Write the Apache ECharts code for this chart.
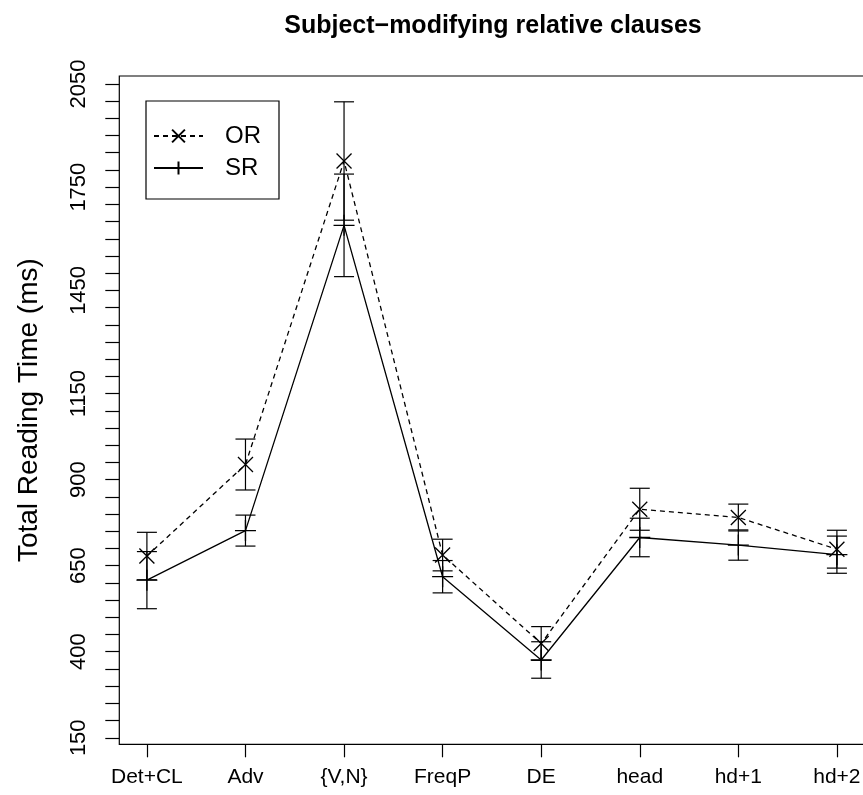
<!DOCTYPE html>
<html lang="en">
<head>
    <meta charset="UTF-8">
    <title>Subject-modifying relative clauses</title>
    <style>
        html, body {margin: 0; padding: 0; background: #fff;}
        #main {width: 863px; height: 795px;}
    </style>
</head>
<body>
<div id="main"></div>
<script src="https://cdn.jsdelivr.net/npm/echarts@6/dist/echarts.min.js"></script>
<script>
    // regions along the sentence
    const categories = ['Det+CL', 'Adv', '{V,N}', 'FreqP', 'DE', 'head', 'hd+1', 'hd+2']
    // object relatives (dashed, x)
    const orMean = [678, 944, 1826, 681, 424, 814, 790, 698]
    const orErr = [69, 74, 172, 46, 49, 61, 39, 55]
    // subject relatives (solid, +)
    const srMean = [608, 752, 1639, 618, 376, 732, 710, 682]
    const srErr = [83, 45, 149, 47, 53, 56, 44, 54]
    // y axis labels (R drops the ones that would overlap)
    const yLabels = [150, 400, 650, 900, 1150, 1450, 1750, 2050]
    const yTickStep = 50

    let yTicks = []
    for (let v = yLabels[0]; v <= yLabels[yLabels.length - 1]; v += yTickStep) yTicks.push(v)
    const xPos = categories.map((c, i) => i + 1)

    const FONT = '"Liberation Sans", Arial, sans-serif'
    const crossPath = 'path://M0,0L10,10M10,0L0,10'
    const plusPath = 'path://M5,0L5,10M0,5L10,5'

    function pairs(means) {
        return means.map((m, i) => [xPos[i], m])
    }

    function errData(means, errs) {
        return means.map((m, i) => [xPos[i], m - errs[i], m + errs[i]])
    }

    function renderErr(params, api) {
        const lo = api.coord([api.value(0), api.value(1)])
        const hi = api.coord([api.value(0), api.value(2)])
        const w = 10
        const style = {stroke: '#000', lineWidth: 1.2}
        return {
            type: 'group',
            children: [
                {type: 'line', shape: {x1: hi[0], y1: hi[1], x2: lo[0], y2: lo[1]}, style: style},
                {type: 'line', shape: {x1: hi[0] - w, y1: hi[1], x2: hi[0] + w, y2: hi[1]}, style: style},
                {type: 'line', shape: {x1: lo[0] - w, y1: lo[1], x2: lo[0] + w, y2: lo[1]}, style: style}
            ]
        }
    }

    let chart = echarts.init(document.getElementById('main'), null, {renderer: 'canvas'})
    let option = {
        animation: false,
        backgroundColor: '#fff',
        title: {
            text: 'Subject\u2212modifying relative clauses',
            left: 488,
            textAlign: 'center',
            top: 9,
            textStyle: {fontFamily: FONT, fontWeight: 'bold', fontSize: 25, color: '#000'}
        },
        legend: {
            left: 146,
            top: 101,
            orient: 'vertical',
            data: ['OR', 'SR'],
            itemWidth: 49,
            itemHeight: 16,
            itemGap: 8,
            padding: [23, 18, 19, 7],
            borderColor: '#000',
            borderWidth: 1.2,
            borderRadius: 0,
            selectedMode: false,
            textStyle: {fontFamily: FONT, fontSize: 24, color: '#000', padding: [0, 0, 0, 17]}
        },
        grid: {
            left: 119.3,
            right: -1.5,
            top: 76,
            bottom: 50.7,
            show: true,
            borderColor: '#000',
            borderWidth: 1.2,
            containLabel: false,
            outerBoundsMode: 'none'
        },
        xAxis: {
            type: 'value',
            min: 0.72,
            max: 8.28,
            axisLine: {show: false},
            splitLine: {show: false},
            axisTick: {show: true, length: 13, customValues: xPos, lineStyle: {color: '#000', width: 1.2}},
            axisLabel: {
                customValues: xPos,
                margin: 22,
                fontFamily: FONT,
                fontSize: 21,
                color: '#000',
                formatter: v => categories[Math.round(v) - 1]
            }
        },
        yAxis: {
            type: 'value',
            min: 131,
            max: 2073,
            name: 'Total Reading Time (ms)',
            nameLocation: 'middle',
            nameGap: 76,
            nameTextStyle: {fontFamily: FONT, fontSize: 28, color: '#000'},
            axisLine: {show: false},
            splitLine: {show: false},
            axisTick: {show: true, length: 14, customValues: yTicks, lineStyle: {color: '#000', width: 1.2}},
            axisLabel: {
                customValues: yLabels,
                rotate: 90,
                margin: 29,
                fontFamily: FONT,
                fontSize: 22,
                color: '#000',
                formatter: v => String(v)
            }
        },
        series: [
            {
                name: 'OR',
                type: 'line',
                data: pairs(orMean),
                symbol: crossPath,
                symbolSize: 15,
                lineStyle: {color: '#000', width: 1.3, type: [5, 4]},
                itemStyle: {color: '#000', borderColor: '#000', borderWidth: 1.3},
                z: 3
            },
            {
                name: 'SR',
                type: 'line',
                data: pairs(srMean),
                symbol: plusPath,
                symbolSize: 21,
                lineStyle: {color: '#000', width: 1.3, type: 'solid'},
                itemStyle: {color: '#000', borderColor: '#000', borderWidth: 1.3},
                z: 3
            },
            {
                name: 'OR err',
                type: 'custom',
                data: errData(orMean, orErr),
                renderItem: renderErr,
                encode: {x: 0, y: [1, 2]},
                z: 2
            },
            {
                name: 'SR err',
                type: 'custom',
                data: errData(srMean, srErr),
                renderItem: renderErr,
                encode: {x: 0, y: [1, 2]},
                z: 2
            }
        ]
    }
    chart.setOption(option)
</script>
</body>
</html>
